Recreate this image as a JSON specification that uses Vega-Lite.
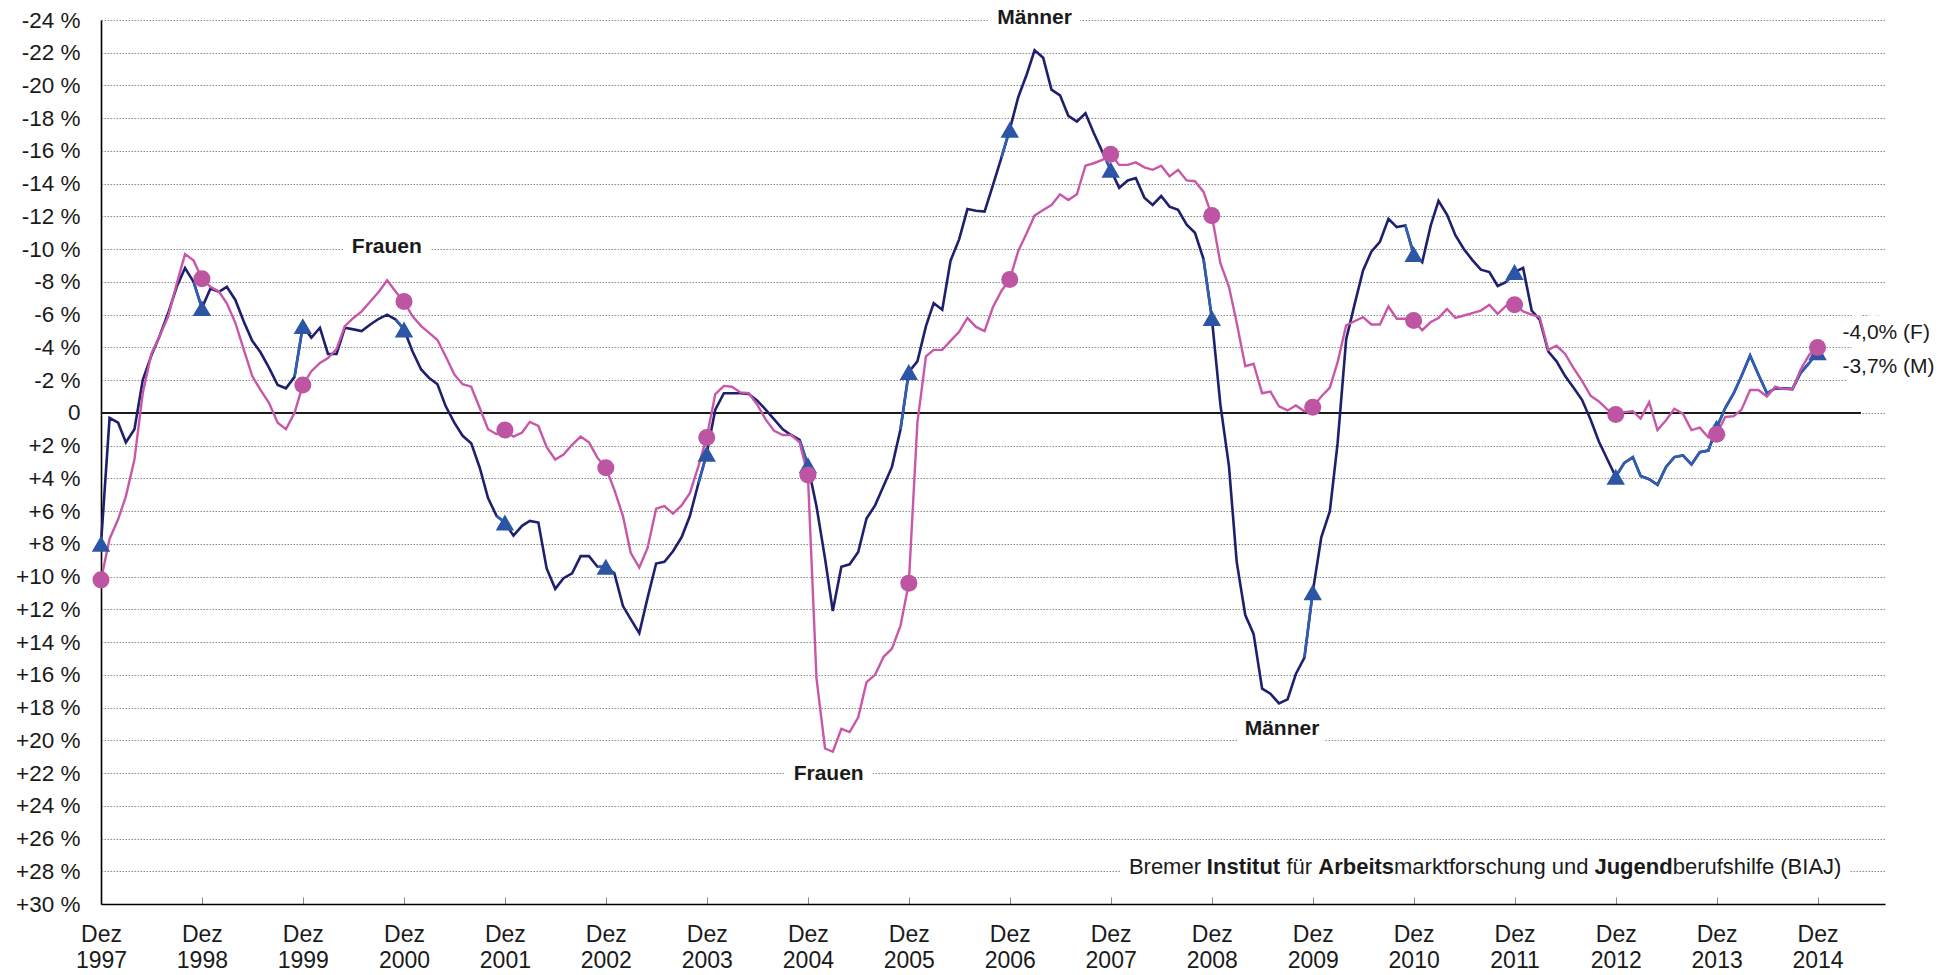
{
  "$schema": "https://vega.github.io/schema/vega-lite/v6.json",
  "autosize": {"type": "none"},
  "padding": {"left": 101, "top": 20, "right": 72, "bottom": 71},
  "width": 1784,
  "height": 884,
  "background": "white",
  "config": {"view": {"stroke": null}, "font": "Liberation Sans", "axis": {"labelOverlap": false}, "axisY": {"labelOverlap": false}},
  "data": {
    "format": {"parse": {"d": "date"}},
    "values": [
      {"d":"1997-12-01","Männer":8.0,"Frauen":10.2},
      {"d":"1998-01-01","Männer":0.3,"Frauen":7.7},
      {"d":"1998-02-01","Männer":0.6,"Frauen":6.5},
      {"d":"1998-03-01","Männer":1.8,"Frauen":5.1},
      {"d":"1998-04-01","Männer":1.0,"Frauen":2.85},
      {"d":"1998-05-01","Männer":-2.0,"Frauen":-1.2},
      {"d":"1998-06-01","Männer":-3.5,"Frauen":-3.6},
      {"d":"1998-07-01","Männer":-4.7,"Frauen":-4.7},
      {"d":"1998-08-01","Männer":-6.1,"Frauen":-5.9},
      {"d":"1998-09-01","Männer":-7.7,"Frauen":-7.9},
      {"d":"1998-10-01","Männer":-8.85,"Frauen":-9.7},
      {"d":"1998-11-01","Männer":-8.0,"Frauen":-9.3},
      {"d":"1998-12-01","Männer":-6.4,"Frauen":-8.2},
      {"d":"1999-01-01","Männer":-7.6,"Frauen":-7.7},
      {"d":"1999-02-01","Männer":-7.4,"Frauen":-7.4},
      {"d":"1999-03-01","Männer":-7.7,"Frauen":-6.7},
      {"d":"1999-04-01","Männer":-6.9,"Frauen":-5.5},
      {"d":"1999-05-01","Männer":-5.6,"Frauen":-3.9},
      {"d":"1999-06-01","Männer":-4.4,"Frauen":-2.25},
      {"d":"1999-07-01","Männer":-3.7,"Frauen":-1.4},
      {"d":"1999-08-01","Männer":-2.75,"Frauen":-0.6},
      {"d":"1999-09-01","Männer":-1.7,"Frauen":0.6},
      {"d":"1999-10-01","Männer":-1.5,"Frauen":1.0},
      {"d":"1999-11-01","Männer":-2.2,"Frauen":0.0},
      {"d":"1999-12-01","Männer":-5.3,"Frauen":-1.7},
      {"d":"2000-01-01","Männer":-4.6,"Frauen":-2.55},
      {"d":"2000-02-01","Männer":-5.2,"Frauen":-3.05},
      {"d":"2000-03-01","Männer":-3.6,"Frauen":-3.35},
      {"d":"2000-04-01","Männer":-3.6,"Frauen":-3.9},
      {"d":"2000-05-01","Männer":-5.2,"Frauen":-5.3},
      {"d":"2000-06-01","Männer":-5.1,"Frauen":-5.8},
      {"d":"2000-07-01","Männer":-5.0,"Frauen":-6.2},
      {"d":"2000-08-01","Männer":-5.4,"Frauen":-6.8},
      {"d":"2000-09-01","Männer":-5.75,"Frauen":-7.4},
      {"d":"2000-10-01","Männer":-6.0,"Frauen":-8.1},
      {"d":"2000-11-01","Männer":-5.7,"Frauen":-7.4},
      {"d":"2000-12-01","Männer":-5.1,"Frauen":-6.8},
      {"d":"2001-01-01","Männer":-3.75,"Frauen":-5.9},
      {"d":"2001-02-01","Männer":-2.65,"Frauen":-5.3},
      {"d":"2001-03-01","Männer":-2.15,"Frauen":-4.9},
      {"d":"2001-04-01","Männer":-1.75,"Frauen":-4.45},
      {"d":"2001-05-01","Männer":-0.4,"Frauen":-3.45},
      {"d":"2001-06-01","Männer":0.6,"Frauen":-2.35},
      {"d":"2001-07-01","Männer":1.4,"Frauen":-1.75},
      {"d":"2001-08-01","Männer":1.85,"Frauen":-1.6},
      {"d":"2001-09-01","Männer":3.35,"Frauen":-0.3},
      {"d":"2001-10-01","Männer":5.2,"Frauen":1.0},
      {"d":"2001-11-01","Männer":6.3,"Frauen":1.3},
      {"d":"2001-12-01","Männer":6.7,"Frauen":1.05},
      {"d":"2002-01-01","Männer":7.5,"Frauen":1.45},
      {"d":"2002-02-01","Männer":6.9,"Frauen":1.2},
      {"d":"2002-03-01","Männer":6.6,"Frauen":0.55},
      {"d":"2002-04-01","Männer":6.7,"Frauen":0.8},
      {"d":"2002-05-01","Männer":9.5,"Frauen":2.1},
      {"d":"2002-06-01","Männer":10.75,"Frauen":2.85},
      {"d":"2002-07-01","Männer":10.1,"Frauen":2.55},
      {"d":"2002-08-01","Männer":9.8,"Frauen":1.95},
      {"d":"2002-09-01","Männer":8.75,"Frauen":1.45},
      {"d":"2002-10-01","Männer":8.75,"Frauen":1.8},
      {"d":"2002-11-01","Männer":9.4,"Frauen":2.75},
      {"d":"2002-12-01","Männer":9.4,"Frauen":3.35},
      {"d":"2003-01-01","Männer":9.8,"Frauen":4.7},
      {"d":"2003-02-01","Männer":11.8,"Frauen":6.3},
      {"d":"2003-03-01","Männer":12.6,"Frauen":8.55},
      {"d":"2003-04-01","Männer":13.45,"Frauen":9.45},
      {"d":"2003-05-01","Männer":11.3,"Frauen":8.25},
      {"d":"2003-06-01","Männer":9.2,"Frauen":5.85},
      {"d":"2003-07-01","Männer":9.1,"Frauen":5.7},
      {"d":"2003-08-01","Männer":8.45,"Frauen":6.15},
      {"d":"2003-09-01","Männer":7.6,"Frauen":5.65},
      {"d":"2003-10-01","Männer":6.3,"Frauen":4.9},
      {"d":"2003-11-01","Männer":4.3,"Frauen":3.25},
      {"d":"2003-12-01","Männer":2.5,"Frauen":1.5},
      {"d":"2004-01-01","Männer":-0.2,"Frauen":-1.15},
      {"d":"2004-02-01","Männer":-1.2,"Frauen":-1.65},
      {"d":"2004-03-01","Männer":-1.2,"Frauen":-1.6},
      {"d":"2004-04-01","Männer":-1.2,"Frauen":-1.25},
      {"d":"2004-05-01","Männer":-1.15,"Frauen":-1.2},
      {"d":"2004-06-01","Männer":-0.75,"Frauen":-0.5},
      {"d":"2004-07-01","Männer":-0.2,"Frauen":0.4},
      {"d":"2004-08-01","Männer":0.4,"Frauen":1.1},
      {"d":"2004-09-01","Männer":1.0,"Frauen":1.35},
      {"d":"2004-10-01","Männer":1.35,"Frauen":1.35},
      {"d":"2004-11-01","Männer":1.65,"Frauen":1.8},
      {"d":"2004-12-01","Männer":3.2,"Frauen":3.8},
      {"d":"2005-01-01","Männer":5.7,"Frauen":16.2},
      {"d":"2005-02-01","Männer":8.9,"Frauen":20.5},
      {"d":"2005-03-01","Männer":12.1,"Frauen":20.7},
      {"d":"2005-04-01","Männer":9.4,"Frauen":19.3},
      {"d":"2005-05-01","Männer":9.25,"Frauen":19.5},
      {"d":"2005-06-01","Männer":8.5,"Frauen":18.6},
      {"d":"2005-07-01","Männer":6.45,"Frauen":16.45},
      {"d":"2005-08-01","Männer":5.65,"Frauen":16.0},
      {"d":"2005-09-01","Männer":4.45,"Frauen":14.9},
      {"d":"2005-10-01","Männer":3.3,"Frauen":14.4},
      {"d":"2005-11-01","Männer":1.0,"Frauen":13.0},
      {"d":"2005-12-01","Männer":-2.5,"Frauen":10.4},
      {"d":"2006-01-01","Männer":-3.15,"Frauen":0.6},
      {"d":"2006-02-01","Männer":-5.3,"Frauen":-3.45},
      {"d":"2006-03-01","Männer":-6.7,"Frauen":-3.85},
      {"d":"2006-04-01","Männer":-6.3,"Frauen":-3.85},
      {"d":"2006-05-01","Männer":-9.3,"Frauen":-4.4},
      {"d":"2006-06-01","Männer":-10.6,"Frauen":-4.95},
      {"d":"2006-07-01","Männer":-12.45,"Frauen":-5.8},
      {"d":"2006-08-01","Männer":-12.35,"Frauen":-5.25},
      {"d":"2006-09-01","Männer":-12.3,"Frauen":-5.0},
      {"d":"2006-10-01","Männer":-13.9,"Frauen":-6.45},
      {"d":"2006-11-01","Männer":-15.6,"Frauen":-7.45},
      {"d":"2006-12-01","Männer":-17.3,"Frauen":-8.15},
      {"d":"2007-01-01","Männer":-19.3,"Frauen":-9.9},
      {"d":"2007-02-01","Männer":-20.7,"Frauen":-11.0},
      {"d":"2007-03-01","Männer":-22.15,"Frauen":-12.05},
      {"d":"2007-04-01","Männer":-21.7,"Frauen":-12.4},
      {"d":"2007-05-01","Männer":-19.75,"Frauen":-12.7},
      {"d":"2007-06-01","Männer":-19.4,"Frauen":-13.35},
      {"d":"2007-07-01","Männer":-18.15,"Frauen":-13.0},
      {"d":"2007-08-01","Männer":-17.8,"Frauen":-13.35},
      {"d":"2007-09-01","Männer":-18.3,"Frauen":-15.1},
      {"d":"2007-10-01","Männer":-17.1,"Frauen":-15.25},
      {"d":"2007-11-01","Männer":-15.95,"Frauen":-15.45},
      {"d":"2007-12-01","Männer":-14.85,"Frauen":-15.8},
      {"d":"2008-01-01","Männer":-13.75,"Frauen":-15.15},
      {"d":"2008-02-01","Männer":-14.2,"Frauen":-15.15},
      {"d":"2008-03-01","Männer":-14.35,"Frauen":-15.3},
      {"d":"2008-04-01","Männer":-13.15,"Frauen":-15.0},
      {"d":"2008-05-01","Männer":-12.7,"Frauen":-14.85},
      {"d":"2008-06-01","Männer":-13.25,"Frauen":-15.1},
      {"d":"2008-07-01","Männer":-12.6,"Frauen":-14.45},
      {"d":"2008-08-01","Männer":-12.4,"Frauen":-14.85},
      {"d":"2008-09-01","Männer":-11.5,"Frauen":-14.2},
      {"d":"2008-10-01","Männer":-11.0,"Frauen":-14.15},
      {"d":"2008-11-01","Männer":-9.4,"Frauen":-13.5},
      {"d":"2008-12-01","Männer":-5.8,"Frauen":-12.05},
      {"d":"2009-01-01","Männer":-0.5,"Frauen":-9.15},
      {"d":"2009-02-01","Männer":3.25,"Frauen":-7.7},
      {"d":"2009-03-01","Männer":9.1,"Frauen":-5.5},
      {"d":"2009-04-01","Männer":12.35,"Frauen":-2.85},
      {"d":"2009-05-01","Männer":13.5,"Frauen":-3.0},
      {"d":"2009-06-01","Männer":16.85,"Frauen":-1.2},
      {"d":"2009-07-01","Männer":17.15,"Frauen":-1.3},
      {"d":"2009-08-01","Männer":17.75,"Frauen":-0.4},
      {"d":"2009-09-01","Männer":17.5,"Frauen":-0.15},
      {"d":"2009-10-01","Männer":15.95,"Frauen":-0.45},
      {"d":"2009-11-01","Männer":14.95,"Frauen":-0.1},
      {"d":"2009-12-01","Männer":10.95,"Frauen":-0.35},
      {"d":"2010-01-01","Männer":7.6,"Frauen":-1.0},
      {"d":"2010-02-01","Männer":6.0,"Frauen":-1.55},
      {"d":"2010-03-01","Männer":1.85,"Frauen":-3.1},
      {"d":"2010-04-01","Männer":-4.5,"Frauen":-5.35},
      {"d":"2010-05-01","Männer":-6.6,"Frauen":-5.6},
      {"d":"2010-06-01","Männer":-8.7,"Frauen":-5.85},
      {"d":"2010-07-01","Männer":-9.85,"Frauen":-5.4},
      {"d":"2010-08-01","Männer":-10.45,"Frauen":-5.4},
      {"d":"2010-09-01","Männer":-11.85,"Frauen":-6.5},
      {"d":"2010-10-01","Männer":-11.35,"Frauen":-5.75},
      {"d":"2010-11-01","Männer":-11.45,"Frauen":-5.75},
      {"d":"2010-12-01","Männer":-9.7,"Frauen":-5.65},
      {"d":"2011-01-01","Männer":-9.2,"Frauen":-5.05},
      {"d":"2011-02-01","Männer":-11.45,"Frauen":-5.55},
      {"d":"2011-03-01","Männer":-12.95,"Frauen":-5.8},
      {"d":"2011-04-01","Männer":-12.1,"Frauen":-6.35},
      {"d":"2011-05-01","Männer":-10.85,"Frauen":-5.8},
      {"d":"2011-06-01","Männer":-10.0,"Frauen":-5.95},
      {"d":"2011-07-01","Männer":-9.35,"Frauen":-6.1},
      {"d":"2011-08-01","Männer":-8.75,"Frauen":-6.25},
      {"d":"2011-09-01","Männer":-8.6,"Frauen":-6.6},
      {"d":"2011-10-01","Männer":-7.75,"Frauen":-6.05},
      {"d":"2011-11-01","Männer":-8.0,"Frauen":-6.55},
      {"d":"2011-12-01","Männer":-8.6,"Frauen":-6.6},
      {"d":"2012-01-01","Männer":-8.85,"Frauen":-6.2},
      {"d":"2012-02-01","Männer":-6.25,"Frauen":-6.0},
      {"d":"2012-03-01","Männer":-5.7,"Frauen":-5.85},
      {"d":"2012-04-01","Männer":-3.75,"Frauen":-3.85},
      {"d":"2012-05-01","Männer":-3.15,"Frauen":-4.1},
      {"d":"2012-06-01","Männer":-2.25,"Frauen":-3.6},
      {"d":"2012-07-01","Männer":-1.55,"Frauen":-2.75},
      {"d":"2012-08-01","Männer":-0.8,"Frauen":-1.95},
      {"d":"2012-09-01","Männer":0.4,"Frauen":-1.05},
      {"d":"2012-10-01","Männer":1.75,"Frauen":-0.7},
      {"d":"2012-11-01","Männer":2.85,"Frauen":-0.2},
      {"d":"2012-12-01","Männer":3.9,"Frauen":0.1},
      {"d":"2013-01-01","Männer":3.05,"Frauen":-0.05},
      {"d":"2013-02-01","Männer":2.7,"Frauen":-0.1},
      {"d":"2013-03-01","Männer":3.85,"Frauen":0.35},
      {"d":"2013-04-01","Männer":4.05,"Frauen":-0.65},
      {"d":"2013-05-01","Männer":4.4,"Frauen":1.05},
      {"d":"2013-06-01","Männer":3.3,"Frauen":0.45},
      {"d":"2013-07-01","Männer":2.7,"Frauen":-0.25},
      {"d":"2013-08-01","Männer":2.6,"Frauen":0.05},
      {"d":"2013-09-01","Männer":3.15,"Frauen":1.05},
      {"d":"2013-10-01","Männer":2.4,"Frauen":0.9},
      {"d":"2013-11-01","Männer":2.3,"Frauen":1.5},
      {"d":"2013-12-01","Männer":0.9,"Frauen":1.3},
      {"d":"2014-01-01","Männer":-0.3,"Frauen":0.25},
      {"d":"2014-02-01","Männer":-1.2,"Frauen":0.2},
      {"d":"2014-03-01","Männer":-2.25,"Frauen":-0.2},
      {"d":"2014-04-01","Männer":-3.5,"Frauen":-1.4},
      {"d":"2014-05-01","Männer":-2.35,"Frauen":-1.4},
      {"d":"2014-06-01","Männer":-1.2,"Frauen":-1.0},
      {"d":"2014-07-01","Männer":-1.5,"Frauen":-1.6},
      {"d":"2014-08-01","Männer":-1.5,"Frauen":-1.45},
      {"d":"2014-09-01","Männer":-1.45,"Frauen":-1.45},
      {"d":"2014-10-01","Männer":-2.45,"Frauen":-2.65},
      {"d":"2014-11-01","Männer":-3.05,"Frauen":-3.55},
      {"d":"2014-12-01","Männer":-3.7,"Frauen":-4.0}
    ]
  },
  "layer": [
    {
      "data": {"values": [{"d": "1997-12-01", "v": 0}, {"d": "2015-05-07", "v": 0}]},
      "mark": {"type": "line", "color": "#1a1a1a", "strokeWidth": 2},
      "encoding": {
        "x": {
          "field": "d", "type": "temporal",
          "scale": {"type": "utc", "domain": [{"year": 1997, "month": 12, "date": 1, "utc": true}, {"year": 2015, "month": 8, "date": 2, "utc": true}]},
          "axis": {
            "title": null,
            "values": [
              {"year": 1997, "month": 12, "date": 1, "utc": true}, {"year": 1998, "month": 12, "date": 1, "utc": true},
              {"year": 1999, "month": 12, "date": 1, "utc": true}, {"year": 2000, "month": 12, "date": 1, "utc": true},
              {"year": 2001, "month": 12, "date": 1, "utc": true}, {"year": 2002, "month": 12, "date": 1, "utc": true},
              {"year": 2003, "month": 12, "date": 1, "utc": true}, {"year": 2004, "month": 12, "date": 1, "utc": true},
              {"year": 2005, "month": 12, "date": 1, "utc": true}, {"year": 2006, "month": 12, "date": 1, "utc": true},
              {"year": 2007, "month": 12, "date": 1, "utc": true}, {"year": 2008, "month": 12, "date": 1, "utc": true},
              {"year": 2009, "month": 12, "date": 1, "utc": true}, {"year": 2010, "month": 12, "date": 1, "utc": true},
              {"year": 2011, "month": 12, "date": 1, "utc": true}, {"year": 2012, "month": 12, "date": 1, "utc": true},
              {"year": 2013, "month": 12, "date": 1, "utc": true}, {"year": 2014, "month": 12, "date": 1, "utc": true}
            ],
            "labelExpr": "['Dez', utcFormat(datum.value, '%Y')]",
            "labelFont": "Liberation Sans", "labelFontSize": 23, "labelColor": "#1a1a1a",
            "labelLineHeight": 26, "labelPadding": 26, "labelAngle": 0,
            "labelOverlap": false, "labelFlush": false, "labelBound": false,
            "ticks": true, "tickSize": -7, "tickColor": "#8a8a8a", "tickWidth": 1,
            "domain": true, "domainColor": "#000000", "domainWidth": 1.6,
            "grid": false
          }
        },
        "y": {
          "field": "v", "type": "quantitative",
          "scale": {"domain": [-24, 30], "reverse": true, "nice": false, "zero": false},
          "axis": {"title": null, "values": [-24,-22,-20,-18,-16,-14,-12,-10,-8,-6,-4,-2,0,2,4,6,8,10,12,14,16,18,20,22,24,26,28,30], "labelExpr": "datum.value == 0 ? '0' : (datum.value > 0 ? '+' + datum.value + ' %' : '-' + abs(datum.value) + ' %')", "labelFont": "Liberation Sans", "labelFontSize": 22.5, "labelColor": "#1a1a1a", "labelPadding": 21, "ticks": false, "labelOverlap": false, "labelBound": false, "labelFlush": false, "domain": true, "domainColor": "#000000", "domainWidth": 1.6, "grid": true, "gridColor": "#8a8a8a", "gridDash": [1.5, 1.5], "gridWidth": 1}
        }
      }
    },
    {
      "data": {"values": [
        {"d": "2007-03-01", "v": -24.15, "t": "Männer"},
        {"d": "2000-09-30", "v": -10.14, "t": "Frauen"},
        {"d": "2005-02-14", "v": 22.05, "t": "Frauen"},
        {"d": "2009-08-12", "v": 19.3, "t": "Männer"}
      ]},
      "encoding": {
        "x": {"field": "d", "type": "temporal", "title": null},
        "y": {"field": "v", "type": "quantitative", "axis": {"title": null, "values": [-24,-22,-20,-18,-16,-14,-12,-10,-8,-6,-4,-2,0,2,4,6,8,10,12,14,16,18,20,22,24,26,28,30], "labelExpr": "datum.value == 0 ? '0' : (datum.value > 0 ? '+' + datum.value + ' %' : '-' + abs(datum.value) + ' %')", "labelFont": "Liberation Sans", "labelFontSize": 22.5, "labelColor": "#1a1a1a", "labelPadding": 21, "ticks": false, "labelOverlap": false, "labelBound": false, "labelFlush": false, "domain": true, "domainColor": "#000000", "domainWidth": 1.6, "grid": true, "gridColor": "#8a8a8a", "gridDash": [1.5, 1.5], "gridWidth": 1}},
        "text": {"field": "t", "type": "nominal"}
      },
      "layer": [
        {"mark": {"type": "text", "font": "Liberation Sans", "fontSize": 21, "fontWeight": "bold", "align": "center", "baseline": "middle", "stroke": "#ffffff", "strokeWidth": 20, "strokeJoin": "round", "fill": "#ffffff"}},
        {"mark": {"type": "text", "font": "Liberation Sans", "fontSize": 21, "fontWeight": "bold", "align": "center", "baseline": "middle", "fill": "#1a1a1a"}}
      ]
    },
    {
      "data": {"values": [
        {"d": "2015-03-01", "v": -4.87, "t": "-4,0% (F)"},
        {"d": "2015-03-01", "v": -2.83, "t": "-3,7% (M)"}
      ]},
      "encoding": {
        "x": {"field": "d", "type": "temporal", "title": null},
        "y": {"field": "v", "type": "quantitative", "axis": {"title": null, "values": [-24,-22,-20,-18,-16,-14,-12,-10,-8,-6,-4,-2,0,2,4,6,8,10,12,14,16,18,20,22,24,26,28,30], "labelExpr": "datum.value == 0 ? '0' : (datum.value > 0 ? '+' + datum.value + ' %' : '-' + abs(datum.value) + ' %')", "labelFont": "Liberation Sans", "labelFontSize": 22.5, "labelColor": "#1a1a1a", "labelPadding": 21, "ticks": false, "labelOverlap": false, "labelBound": false, "labelFlush": false, "domain": true, "domainColor": "#000000", "domainWidth": 1.6, "grid": true, "gridColor": "#8a8a8a", "gridDash": [1.5, 1.5], "gridWidth": 1}},
        "text": {"field": "t", "type": "nominal"}
      },
      "layer": [
        {"mark": {"type": "text", "font": "Liberation Sans", "fontSize": 21, "align": "left", "baseline": "middle", "stroke": "#ffffff", "strokeWidth": 20, "strokeJoin": "round", "fill": "#ffffff"}},
        {"mark": {"type": "text", "font": "Liberation Sans", "fontSize": 21, "align": "left", "baseline": "middle", "fill": "#1a1a1a"}}
      ]
    },
    {
      "data": {"values": [
        {"d": "2008-02-05", "v": 27.75, "t": "Bremer"},
        {"d": "2009-08-28", "v": 27.75, "t": "für"},
        {"d": "2010-09-21", "v": 27.75, "t": "marktforschung und"},
        {"d": "2013-06-25", "v": 27.75, "t": "berufshilfe (BIAJ)"}
      ]},
      "encoding": {
        "x": {"field": "d", "type": "temporal", "title": null},
        "y": {"field": "v", "type": "quantitative", "axis": {"title": null, "values": [-24,-22,-20,-18,-16,-14,-12,-10,-8,-6,-4,-2,0,2,4,6,8,10,12,14,16,18,20,22,24,26,28,30], "labelExpr": "datum.value == 0 ? '0' : (datum.value > 0 ? '+' + datum.value + ' %' : '-' + abs(datum.value) + ' %')", "labelFont": "Liberation Sans", "labelFontSize": 22.5, "labelColor": "#1a1a1a", "labelPadding": 21, "ticks": false, "labelOverlap": false, "labelBound": false, "labelFlush": false, "domain": true, "domainColor": "#000000", "domainWidth": 1.6, "grid": true, "gridColor": "#8a8a8a", "gridDash": [1.5, 1.5], "gridWidth": 1}},
        "text": {"field": "t", "type": "nominal"}
      },
      "mark": {"type": "text", "font": "Liberation Sans", "fontSize": 22, "align": "left", "baseline": "middle", "stroke": "#ffffff", "strokeWidth": 20, "strokeJoin": "round", "fill": "#ffffff"}
    },
    {
      "data": {"values": [
        {"d": "2008-11-13", "v": 27.75, "t": "Institut"},
        {"d": "2009-12-21", "v": 27.75, "t": "Arbeits"},
        {"d": "2012-09-15", "v": 27.75, "t": "Jugend"}
      ]},
      "encoding": {
        "x": {"field": "d", "type": "temporal", "title": null},
        "y": {"field": "v", "type": "quantitative", "axis": {"title": null, "values": [-24,-22,-20,-18,-16,-14,-12,-10,-8,-6,-4,-2,0,2,4,6,8,10,12,14,16,18,20,22,24,26,28,30], "labelExpr": "datum.value == 0 ? '0' : (datum.value > 0 ? '+' + datum.value + ' %' : '-' + abs(datum.value) + ' %')", "labelFont": "Liberation Sans", "labelFontSize": 22.5, "labelColor": "#1a1a1a", "labelPadding": 21, "ticks": false, "labelOverlap": false, "labelBound": false, "labelFlush": false, "domain": true, "domainColor": "#000000", "domainWidth": 1.6, "grid": true, "gridColor": "#8a8a8a", "gridDash": [1.5, 1.5], "gridWidth": 1}},
        "text": {"field": "t", "type": "nominal"}
      },
      "mark": {"type": "text", "font": "Liberation Sans", "fontSize": 22, "fontWeight": "bold", "align": "left", "baseline": "middle", "stroke": "#ffffff", "strokeWidth": 20, "strokeJoin": "round", "fill": "#ffffff"}
    },
    {
      "data": {"values": [
        {"d": "2008-02-05", "v": 27.75, "t": "Bremer"},
        {"d": "2009-08-28", "v": 27.75, "t": "für"},
        {"d": "2010-09-21", "v": 27.75, "t": "marktforschung und"},
        {"d": "2013-06-25", "v": 27.75, "t": "berufshilfe (BIAJ)"}
      ]},
      "encoding": {
        "x": {"field": "d", "type": "temporal", "title": null},
        "y": {"field": "v", "type": "quantitative", "axis": {"title": null, "values": [-24,-22,-20,-18,-16,-14,-12,-10,-8,-6,-4,-2,0,2,4,6,8,10,12,14,16,18,20,22,24,26,28,30], "labelExpr": "datum.value == 0 ? '0' : (datum.value > 0 ? '+' + datum.value + ' %' : '-' + abs(datum.value) + ' %')", "labelFont": "Liberation Sans", "labelFontSize": 22.5, "labelColor": "#1a1a1a", "labelPadding": 21, "ticks": false, "labelOverlap": false, "labelBound": false, "labelFlush": false, "domain": true, "domainColor": "#000000", "domainWidth": 1.6, "grid": true, "gridColor": "#8a8a8a", "gridDash": [1.5, 1.5], "gridWidth": 1}},
        "text": {"field": "t", "type": "nominal"}
      },
      "mark": {"type": "text", "font": "Liberation Sans", "fontSize": 22, "align": "left", "baseline": "middle", "fill": "#1a1a1a"}
    },
    {
      "data": {"values": [
        {"d": "2008-11-13", "v": 27.75, "t": "Institut"},
        {"d": "2009-12-21", "v": 27.75, "t": "Arbeits"},
        {"d": "2012-09-15", "v": 27.75, "t": "Jugend"}
      ]},
      "encoding": {
        "x": {"field": "d", "type": "temporal", "title": null},
        "y": {"field": "v", "type": "quantitative", "axis": {"title": null, "values": [-24,-22,-20,-18,-16,-14,-12,-10,-8,-6,-4,-2,0,2,4,6,8,10,12,14,16,18,20,22,24,26,28,30], "labelExpr": "datum.value == 0 ? '0' : (datum.value > 0 ? '+' + datum.value + ' %' : '-' + abs(datum.value) + ' %')", "labelFont": "Liberation Sans", "labelFontSize": 22.5, "labelColor": "#1a1a1a", "labelPadding": 21, "ticks": false, "labelOverlap": false, "labelBound": false, "labelFlush": false, "domain": true, "domainColor": "#000000", "domainWidth": 1.6, "grid": true, "gridColor": "#8a8a8a", "gridDash": [1.5, 1.5], "gridWidth": 1}},
        "text": {"field": "t", "type": "nominal"}
      },
      "mark": {"type": "text", "font": "Liberation Sans", "fontSize": 22, "fontWeight": "bold", "align": "left", "baseline": "middle", "fill": "#1a1a1a"}
    },
    {
      "transform": [{"fold": ["Männer", "Frauen"], "as": ["s", "v"]}],
      "encoding": {
        "x": {"field": "d", "type": "temporal", "title": null},
        "y": {"field": "v", "type": "quantitative", "axis": {"title": null, "values": [-24,-22,-20,-18,-16,-14,-12,-10,-8,-6,-4,-2,0,2,4,6,8,10,12,14,16,18,20,22,24,26,28,30], "labelExpr": "datum.value == 0 ? '0' : (datum.value > 0 ? '+' + datum.value + ' %' : '-' + abs(datum.value) + ' %')", "labelFont": "Liberation Sans", "labelFontSize": 22.5, "labelColor": "#1a1a1a", "labelPadding": 21, "ticks": false, "labelOverlap": false, "labelBound": false, "labelFlush": false, "domain": true, "domainColor": "#000000", "domainWidth": 1.6, "grid": true, "gridColor": "#8a8a8a", "gridDash": [1.5, 1.5], "gridWidth": 1}}
      },
      "layer": [
        {
          "transform": [{"filter": "datum.s === 'Männer'"}],
          "mark": {"type": "line", "color": "#1f1f6f", "strokeWidth": 2.6}
        },
        {
          "transform": [{"filter": "datum.s === 'Männer' && utcmonth(datum.d) >= 10 && time(datum.d) < utc(2012, 11, 1)"}],
          "mark": {"type": "line", "color": "#2f5eb2", "strokeWidth": 2.6},
          "encoding": {"detail": {"field": "d", "timeUnit": "utcyear", "type": "temporal"}}
        },
        {
          "transform": [{"filter": "datum.s === 'Männer' && time(datum.d) >= utc(2012, 11, 1)"}],
          "mark": {"type": "line", "color": "#2f5eb2", "strokeWidth": 2.6}
        },
        {
          "transform": [{"filter": "datum.s === 'Frauen'"}],
          "mark": {"type": "line", "color": "#c957a8", "strokeWidth": 2.4}
        },
        {
          "transform": [{"filter": "datum.s === 'Männer' && utcmonth(datum.d) == 11"}],
          "mark": {"type": "point", "shape": "triangle-up", "filled": true, "color": "#2d55a6", "opacity": 1, "size": 340}
        },
        {
          "transform": [{"filter": "datum.s === 'Frauen' && utcmonth(datum.d) == 11"}],
          "mark": {"type": "point", "shape": "circle", "filled": true, "color": "#bd55a2", "opacity": 1, "size": 290}
        }
      ]
    }
  ]
}
